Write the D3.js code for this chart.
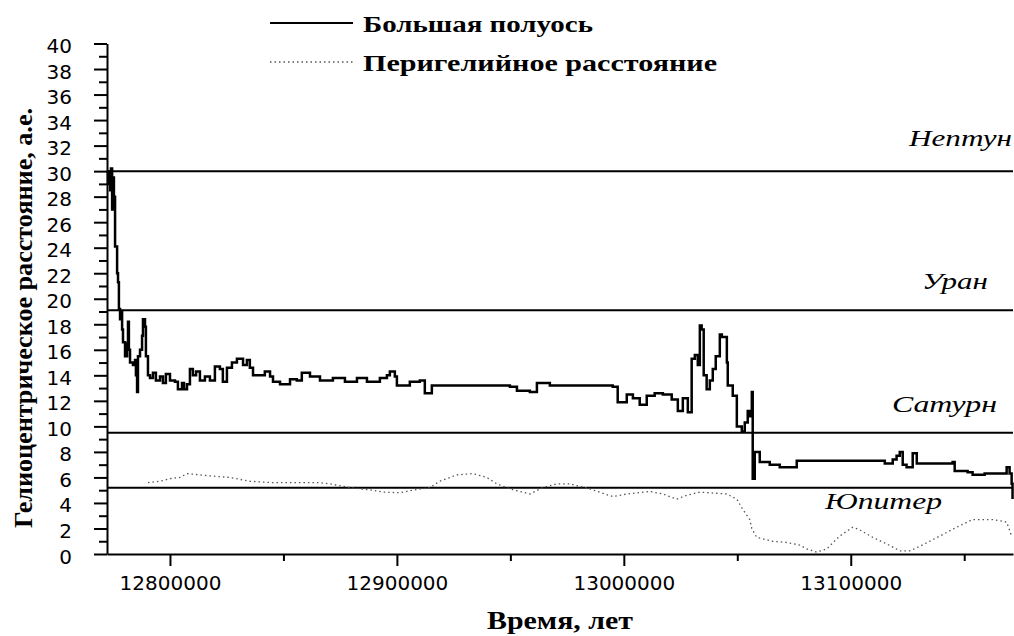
<!DOCTYPE html>
<html>
<head>
<meta charset="utf-8">
<script src="https://cdn.jsdelivr.net/npm/d3@7"></script>
<style>
  body { margin: 0; background: #fff; }
  svg { display: block; }
</style>
</head>
<body>
<svg id="chart"></svg>
<script>
// time in years, values in a.u.
var axisTimes = [
  12772250, 12772700, 12773600, 12774000, 12774500, 12774900, 12775300, 12775800,
  12776700, 12777100, 12777500, 12778000, 12778400, 12778900, 12779300, 12780200,
  12781100, 12781500, 12781900, 12782400, 12783700, 12784600, 12785000, 12785500,
  12785900, 12786800, 12787700, 12788100, 12789000, 12789400, 12790300, 12791200,
  12792500, 12793800, 12795600, 12796900, 12798200, 12800000, 12802200, 12803500,
  12805300, 12806200, 12807500, 12808800, 12810100, 12811500, 12813200, 12815400,
  12817600, 12819800, 12822000, 12823300, 12825100, 12827300, 12829500, 12832200,
  12833900, 12835200, 12836600, 12838800, 12841800, 12844100, 12845400, 12848500,
  12852900, 12855900, 12858100, 12861700, 12866100, 12871800, 12877100, 12882400,
  12886800, 12892500, 12895600, 12896900, 12899100, 12900000, 12902200, 12905700,
  12910100, 12912300, 12915400, 12923300, 12936600, 12949800, 12952900, 12958600,
  12961700, 12967400, 12980600, 12995100, 12997300, 13001300, 13004000, 13007000,
  13010100, 13013600, 13017200, 13021100, 13023800, 13026000, 13028200, 13029900,
  13031300, 13032600, 13033500, 13034300, 13035200, 13036500, 13037900, 13039200,
  13040500, 13042300, 13043200, 13045400, 13045800, 13048000, 13049800, 13051100,
  13052000, 13053300, 13054600, 13055500, 13056400, 13056800, 13057700, 13059900,
  13064300, 13068700, 13073100, 13076200, 13095100, 13109700, 13115000, 13118500,
  13120200, 13121600, 13122900, 13124600, 13127300, 13129100, 13134800, 13144900,
  13145800, 13151500, 13153700, 13159000, 13166900, 13168700, 13170000, 13170900,
  13171300
];
var semiMajorAxis = [
  29.0, 30.0, 28.5, 30.2, 27.0, 29.5, 28.0, 24.1,
  22.0, 21.3, 19.2, 18.4, 19.0, 17.6, 16.6, 15.5,
  16.5, 18.2, 16.0, 15.0, 14.8, 15.2, 14.0, 12.7,
  15.5, 16.0, 17.1, 18.4, 17.8, 15.5, 14.0, 13.8,
  14.2, 13.6, 13.9, 13.4, 14.1, 13.6, 13.5, 12.9,
  13.4, 12.9, 13.3, 14.5, 14.0, 14.3, 13.6, 13.9,
  13.6, 14.7, 14.5, 13.5, 14.6, 15.0, 15.3, 14.8,
  15.2, 14.6, 14.0, 14.0, 14.3, 13.9, 13.5, 13.3,
  13.7, 13.6, 14.2, 13.9, 13.6, 13.8, 13.5, 13.8,
  13.5, 13.8, 14.0, 14.3, 13.9, 13.2, 13.2, 13.5,
  13.6, 12.6, 13.2, 13.2, 13.2, 13.1, 12.8, 12.7,
  13.4, 13.2, 13.2, 13.1, 11.9, 12.5, 12.2, 11.7,
  12.4, 12.6, 12.5, 12.1, 11.2, 12.2, 11.1, 15.3,
  15.6, 14.8, 17.9, 17.6, 14.0, 12.9, 13.6, 14.5,
  15.5, 17.2, 17.0, 15.0, 13.2, 12.4, 10.0, 10.0,
  9.6, 10.3, 11.2, 10.8, 12.7, 5.9, 8.0, 7.2,
  7.0, 6.8, 6.8, 7.3, 7.3, 7.3, 7.1, 7.4,
  7.7, 8.0, 7.0, 6.8, 7.9, 7.1, 7.1, 7.2,
  6.5, 6.4, 6.2, 6.3, 6.3, 6.8, 6.3, 5.5,
  4.3
];

var periTimes = [
  12790300, 12795600, 12800000, 12804400, 12807500, 12813200, 12818900, 12826400,
  12835200, 12844100, 12852900, 12864800, 12870500, 12876200, 12883700, 12889400,
  12893800, 12901300, 12907000, 12914500, 12918900, 12926400, 12933500, 12939600,
  12944000, 12949800, 12958600, 12964300, 12970500, 12976200, 12985000, 12995100,
  13001300, 13011400, 13017200, 13023300, 13027700, 13033500, 13045400, 13049800,
  13052400, 13055500, 13056400, 13058600, 13065600, 13071800, 13077500, 13080600,
  13085000, 13089400, 13095100, 13100900, 13103900, 13109700, 13115800, 13121600,
  13126000, 13130400, 13139200, 13146700, 13153700, 13162500, 13168700, 13170900
];
var perihelion = [
  5.6, 5.7, 5.9, 6.0, 6.3, 6.2, 6.1, 6.0,
  5.7, 5.6, 5.6, 5.6, 5.5, 5.3, 5.1, 5.0,
  4.85, 4.8, 5.0, 5.2, 5.7, 6.2, 6.3, 6.0,
  5.5, 5.1, 4.7, 5.2, 5.5, 5.5, 5.1, 4.5,
  4.7, 4.9, 4.7, 4.3, 4.6, 4.85, 4.7, 4.3,
  3.5, 2.7, 2.0, 1.3, 1.0, 0.9, 0.7, 0.4,
  0.15, 0.4, 1.4, 2.1, 1.9, 1.3, 0.8, 0.25,
  0.25, 0.6, 1.4, 2.1, 2.7, 2.7, 2.5, 1.4
];

// planet orbit lines
var planetNames = ["Нептун", "Уран", "Сатурн", "Юпитер"];
var planetDist = [30.0, 19.1, 9.5, 5.2];

// axis ticks
var xTicks = [12800000, 12900000, 13000000, 13100000];
var xMinorTicks = [12850000, 12950000, 13050000, 13150000];
var yTicks = d3.range(0, 41, 2);
var yMinorTicks = d3.range(1, 40, 2);

var legendLabels = ["Большая полуось", "Перигелийное расстояние"];

function drawChart() {
  var width = 1014;
  var height = 636;

  var svg = d3.select("#chart")
    .attr("width", width)
    .attr("height", height);

  // scales
  var x = d3.scaleLinear()
    .domain([12772250, 13171500])
    .range([107, 1013]);

  var y = d3.scaleLinear()
    .domain([0, 40])
    .range([554, 43.5]);

  // planet lines first so the data sits on top
  var planets = svg.append("g");
  planets.selectAll("line")
    .data(planetDist)
    .enter()
    .append("line")
    .attr("x1", x.range()[0])
    .attr("x2", x.range()[1])
    .attr("y1", d => y(d))
    .attr("y2", d => y(d))
    .attr("stroke", "#000")
    .attr("stroke-width", 2);

  // planet labels, italic, right side
  var labelPos = [
    { x: 1012, dy: -25, w: 103 },
    { x: 988, dy: -21, w: 66 },
    { x: 997, dy: -21, w: 105 },
    { x: 942, dy: 21, w: 117 }
  ];
  planets.selectAll("text")
    .data(planetNames)
    .enter()
    .append("text")
    .attr("x", (d, i) => labelPos[i].x - labelPos[i].w)
    .attr("y", (d, i) => y(planetDist[i]) + labelPos[i].dy)
    .attr("textLength", (d, i) => labelPos[i].w)
    .attr("lengthAdjust", "spacingAndGlyphs")
    .attr("font-family", "Liberation Serif, serif")
    .attr("font-style", "italic")
    .attr("font-size", "24px")
    .attr("fill", "#000")
    .text(d => d);

  // y axis: major + minor ticks
  var yAxis = svg.append("g")
    .attr("transform", "translate(107,0)")
    .call(d3.axisLeft(y).tickValues(yTicks).tickSize(13).tickPadding(22).tickSizeOuter(0));

  svg.append("g")
    .attr("transform", "translate(107,0)")
    .call(d3.axisLeft(y).tickValues(yMinorTicks).tickSize(8).tickFormat("").tickSizeOuter(0))
    .select(".domain").remove();

  yAxis.selectAll("text")
    .attr("font-family", "DejaVu Sans, sans-serif")
    .attr("font-size", "20px")
    .attr("dy", "0.45em")
    .attr("fill", "#000");

  // x axis
  var xAxis = svg.append("g")
    .attr("transform", "translate(0,554)")
    .call(d3.axisBottom(x).tickValues(xTicks).tickSize(12).tickPadding(10)
      .tickFormat(d3.format("d")).tickSizeOuter(0));

  svg.append("g")
    .attr("transform", "translate(0,554)")
    .call(d3.axisBottom(x).tickValues(xMinorTicks).tickSize(7).tickFormat("").tickSizeOuter(0))
    .select(".domain").remove();

  xAxis.selectAll("text")
    .attr("font-family", "DejaVu Sans, sans-serif")
    .attr("font-size", "20px")
    .attr("fill", "#000");

  svg.selectAll(".domain, .tick line")
    .attr("stroke", "#000")
    .attr("stroke-width", 2);

  // perihelion distance, dotted
  var periLine = d3.line()
    .x((d, i) => x(periTimes[i]))
    .y(d => y(d));

  svg.append("path")
    .datum(perihelion)
    .attr("d", periLine)
    .attr("fill", "none")
    .attr("stroke", "#555")
    .attr("stroke-width", 1.3)
    .attr("stroke-dasharray", "1.5,3");

  // semi-major axis, solid, drawn as steps like the original output
  var axisLine = d3.line()
    .x((d, i) => x(axisTimes[i]))
    .y(d => y(d))
    .curve(d3.curveStepAfter);

  svg.append("path")
    .datum(semiMajorAxis)
    .attr("d", axisLine)
    .attr("fill", "none")
    .attr("stroke", "#000")
    .attr("stroke-width", 2.5);

  // axis titles
  svg.append("text")
    .attr("transform", "translate(32,318) rotate(-90)")
    .attr("text-anchor", "middle")
    .attr("textLength", 420)
    .attr("lengthAdjust", "spacingAndGlyphs")
    .attr("font-family", "Liberation Serif, serif")
    .attr("font-weight", "bold")
    .attr("font-size", "25px")
    .text("Гелиоцентрическое расстояние, а.е.");

  svg.append("text")
    .attr("x", 487)
    .attr("y", 629)
    .attr("textLength", 146)
    .attr("lengthAdjust", "spacingAndGlyphs")
    .attr("font-family", "Liberation Serif, serif")
    .attr("font-weight", "bold")
    .attr("font-size", "25px")
    .text("Время, лет");

  // legend
  var legend = svg.append("g");
  var legendY = [23, 62];
  var legendW = [230, 354];

  legend.selectAll("line")
    .data(legendLabels)
    .enter()
    .append("line")
    .attr("x1", 270)
    .attr("x2", 353)
    .attr("y1", (d, i) => legendY[i])
    .attr("y2", (d, i) => legendY[i])
    .attr("stroke", (d, i) => i ? "#555" : "#000")
    .attr("stroke-width", (d, i) => i ? 1.3 : 2)
    .attr("stroke-dasharray", (d, i) => i ? "1.5,3" : null);

  legend.selectAll("text")
    .data(legendLabels)
    .enter()
    .append("text")
    .attr("x", 363)
    .attr("y", (d, i) => legendY[i] + 9)
    .attr("textLength", (d, i) => legendW[i])
    .attr("lengthAdjust", "spacingAndGlyphs")
    .attr("font-family", "Liberation Serif, serif")
    .attr("font-weight", "bold")
    .attr("font-size", "24px")
    .text(d => d);
}

drawChart();
</script>
</body>
</html>
